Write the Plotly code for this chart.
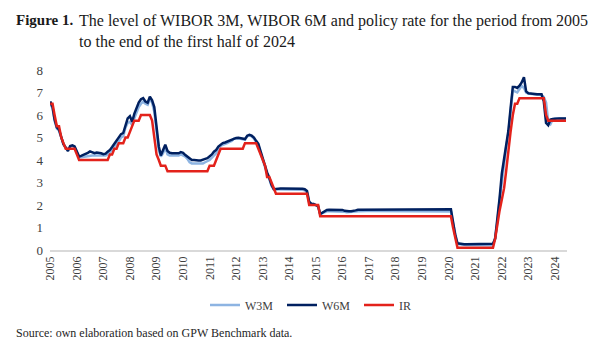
import pandas as pd
import plotly.graph_objects as go

# Monthly observations, January 2005 - June 2024 (one row per year)
w3m = [
    6.50, 6.30, 5.75, 5.40, 5.30, 5.00, 4.70, 4.55, 4.45, 4.58, 4.62, 4.58,  # 2005
    4.35, 4.12, 4.12, 4.14, 4.15, 4.17, 4.20, 4.20, 4.20, 4.21, 4.21, 4.20,  # 2006
    4.20, 4.20, 4.25, 4.35, 4.45, 4.60, 4.70, 4.82, 5.00, 5.05, 5.45, 5.65,  # 2007
    5.70, 5.55, 5.85, 6.10, 6.35, 6.50, 6.60, 6.50, 6.45, 6.70, 6.55, 6.15,  # 2008
    5.20, 4.45, 4.15, 4.30, 4.55, 4.25, 4.20, 4.20, 4.20, 4.20, 4.20, 4.25,  # 2009
    4.20, 4.15, 4.05, 3.90, 3.85, 3.85, 3.85, 3.85, 3.85, 3.85, 3.90, 3.95,  # 2010
    4.00, 4.10, 4.20, 4.30, 4.50, 4.62, 4.68, 4.70, 4.75, 4.80, 4.85, 4.95,  # 2011
    4.97, 4.96, 4.94, 4.93, 4.90, 5.05, 5.10, 5.05, 4.95, 4.80, 4.65, 4.30,  # 2012
    3.95, 3.70, 3.40, 3.15, 2.85, 2.70, 2.70, 2.71, 2.70, 2.68, 2.68, 2.69,  # 2013
    2.70, 2.71, 2.71, 2.71, 2.71, 2.70, 2.68, 2.65, 2.55, 2.10, 2.05, 2.05,  # 2014
    1.98, 1.92, 1.60, 1.65, 1.70, 1.72, 1.72, 1.72, 1.72, 1.72, 1.72, 1.72,  # 2015
    1.72, 1.70, 1.68, 1.68, 1.68, 1.70, 1.71, 1.72, 1.73, 1.73, 1.73, 1.73,  # 2016
    1.73, 1.73, 1.73, 1.73, 1.73, 1.73, 1.73, 1.73, 1.73, 1.73, 1.73, 1.73,  # 2017
    1.72, 1.72, 1.71, 1.70, 1.70, 1.70, 1.70, 1.70, 1.71, 1.72, 1.72, 1.72,  # 2018
    1.72, 1.72, 1.72, 1.72, 1.72, 1.72, 1.72, 1.72, 1.72, 1.72, 1.72, 1.72,  # 2019
    1.71, 1.71, 1.20, 0.65, 0.27, 0.25, 0.23, 0.22, 0.22, 0.22, 0.22, 0.21,  # 2020
    0.21, 0.21, 0.21, 0.21, 0.21, 0.21, 0.21, 0.21, 0.21, 0.55, 1.25, 2.20,  # 2021
    3.05, 3.70, 4.55, 5.20, 6.20, 7.10, 7.05, 7.00, 7.15, 7.30, 7.20, 7.00,  # 2022
    6.95, 6.93, 6.92, 6.91, 6.90, 6.90, 6.88, 6.80, 6.55, 5.70, 5.60, 5.80,  # 2023
    5.84, 5.84, 5.85, 5.85, 5.85, 5.85,                                      # 2024
]

w6m = [
    6.60, 6.35, 5.80, 5.45, 5.35, 5.00, 4.70, 4.55, 4.40, 4.62, 4.65, 4.60,  # 2005
    4.40, 4.15, 4.18, 4.22, 4.25, 4.32, 4.38, 4.33, 4.30, 4.33, 4.33, 4.30,  # 2006
    4.26, 4.28, 4.37, 4.45, 4.58, 4.72, 4.85, 5.00, 5.15, 5.20, 5.60, 5.85,  # 2007
    5.95, 5.70, 6.05, 6.30, 6.55, 6.70, 6.75, 6.60, 6.55, 6.82, 6.65, 6.35,  # 2008
    5.40, 4.60, 4.20, 4.45, 4.68, 4.40, 4.32, 4.30, 4.30, 4.30, 4.30, 4.35,  # 2009
    4.32, 4.22, 4.15, 4.05, 4.00, 4.00, 3.98, 3.98, 3.98, 4.00, 4.05, 4.08,  # 2010
    4.15, 4.25, 4.37, 4.45, 4.60, 4.70, 4.75, 4.78, 4.82, 4.85, 4.90, 4.95,  # 2011
    4.98, 4.99, 4.97, 4.96, 4.93, 5.08, 5.12, 5.08, 5.00, 4.85, 4.72, 4.40,  # 2012
    4.05, 3.80, 3.45, 3.20, 2.90, 2.70, 2.72, 2.73, 2.73, 2.73, 2.73, 2.74,  # 2013
    2.74, 2.74, 2.74, 2.74, 2.74, 2.73, 2.72, 2.70, 2.62, 2.15, 2.05, 2.05,  # 2014
    2.00, 1.95, 1.60, 1.65, 1.72, 1.78, 1.79, 1.79, 1.79, 1.79, 1.79, 1.79,  # 2015
    1.78, 1.74, 1.72, 1.72, 1.72, 1.73, 1.76, 1.79, 1.79, 1.80, 1.80, 1.80,  # 2016
    1.81, 1.81, 1.81, 1.81, 1.81, 1.81, 1.81, 1.81, 1.81, 1.81, 1.81, 1.81,  # 2017
    1.81, 1.81, 1.81, 1.81, 1.81, 1.81, 1.81, 1.81, 1.81, 1.81, 1.81, 1.81,  # 2018
    1.81, 1.81, 1.81, 1.81, 1.81, 1.81, 1.81, 1.81, 1.81, 1.81, 1.81, 1.81,  # 2019
    1.81, 1.81, 1.25, 0.65, 0.30, 0.28, 0.27, 0.26, 0.26, 0.26, 0.26, 0.26,  # 2020
    0.26, 0.26, 0.26, 0.25, 0.25, 0.25, 0.26, 0.26, 0.28, 0.50, 1.30, 2.30,  # 2021
    3.40, 4.00, 4.60, 5.30, 6.30, 7.25, 7.25, 7.20, 7.30, 7.45, 7.68, 7.05,  # 2022
    6.97, 6.95, 6.93, 6.92, 6.92, 6.92, 6.92, 6.60, 5.65, 5.55, 5.80, 5.82,  # 2023
    5.84, 5.84, 5.85, 5.85, 5.85, 5.84,                                      # 2024
]

ir = [
    6.50, 6.50, 6.00, 5.50, 5.50, 5.00, 4.75, 4.50, 4.50, 4.50, 4.50, 4.50,  # 2005
    4.25, 4.00, 4.00, 4.00, 4.00, 4.00, 4.00, 4.00, 4.00, 4.00, 4.00, 4.00,  # 2006
    4.00, 4.00, 4.00, 4.25, 4.25, 4.50, 4.50, 4.75, 4.75, 4.75, 5.00, 5.00,  # 2007
    5.25, 5.50, 5.75, 5.75, 5.75, 6.00, 6.00, 6.00, 6.00, 6.00, 5.75, 5.00,  # 2008
    4.25, 4.00, 3.75, 3.75, 3.75, 3.50, 3.50, 3.50, 3.50, 3.50, 3.50, 3.50,  # 2009
    3.50, 3.50, 3.50, 3.50, 3.50, 3.50, 3.50, 3.50, 3.50, 3.50, 3.50, 3.50,  # 2010
    3.75, 3.75, 3.75, 4.00, 4.25, 4.50, 4.50, 4.50, 4.50, 4.50, 4.50, 4.50,  # 2011
    4.50, 4.50, 4.50, 4.50, 4.75, 4.75, 4.75, 4.75, 4.75, 4.75, 4.50, 4.25,  # 2012
    4.00, 3.75, 3.25, 3.25, 3.00, 2.75, 2.50, 2.50, 2.50, 2.50, 2.50, 2.50,  # 2013
    2.50, 2.50, 2.50, 2.50, 2.50, 2.50, 2.50, 2.50, 2.50, 2.00, 2.00, 2.00,  # 2014
    2.00, 2.00, 1.50, 1.50, 1.50, 1.50, 1.50, 1.50, 1.50, 1.50, 1.50, 1.50,  # 2015
    1.50, 1.50, 1.50, 1.50, 1.50, 1.50, 1.50, 1.50, 1.50, 1.50, 1.50, 1.50,  # 2016
    1.50, 1.50, 1.50, 1.50, 1.50, 1.50, 1.50, 1.50, 1.50, 1.50, 1.50, 1.50,  # 2017
    1.50, 1.50, 1.50, 1.50, 1.50, 1.50, 1.50, 1.50, 1.50, 1.50, 1.50, 1.50,  # 2018
    1.50, 1.50, 1.50, 1.50, 1.50, 1.50, 1.50, 1.50, 1.50, 1.50, 1.50, 1.50,  # 2019
    1.50, 1.50, 1.00, 0.50, 0.10, 0.10, 0.10, 0.10, 0.10, 0.10, 0.10, 0.10,  # 2020
    0.10, 0.10, 0.10, 0.10, 0.10, 0.10, 0.10, 0.10, 0.10, 0.50, 1.25, 1.75,  # 2021
    2.25, 2.75, 3.50, 4.50, 5.25, 6.00, 6.50, 6.50, 6.75, 6.75, 6.75, 6.75,  # 2022
    6.75, 6.75, 6.75, 6.75, 6.75, 6.75, 6.75, 6.75, 6.00, 5.75, 5.75, 5.75,  # 2023
    5.75, 5.75, 5.75, 5.75, 5.75, 5.75,                                      # 2024
]

years = list(range(2005, 2025))
year_labels = [str(y) for y in years]

months = pd.period_range("2005-01", periods=len(ir), freq="M").to_timestamp()
year_ticks = pd.to_datetime([f"{y}-01-01" for y in years])

FONT = "Liberation Serif, DejaVu Serif, serif"
series = [
    ("W3M", w3m, "#8DB4E2"),
    ("W6M", w6m, "#002060"),
    ("IR", ir, "#E3221B"),
]

fig = go.Figure()
for name, vals, color in series:
    fig.add_trace(go.Scatter(
        x=months, y=vals, name=name, mode="lines",
        line=dict(color=color, width=2.5),
    ))

# Plot area spans x 50..567 px, y 70..250 px
L, R, T, B = 50, 35, 70, 98
W, H = 602, 348
pw, ph = W - L - R, H - T - B


def px(x):
    return (x - L) / pw


def py(y):
    return (H - B - y) / ph


fig.update_layout(
    width=W, height=H,
    margin=dict(l=L, r=R, t=T, b=B),
    paper_bgcolor="white", plot_bgcolor="white",
    font=dict(family=FONT, color="#404040"),
    showlegend=True,
    legend=dict(
        orientation="h", x=px(205), xanchor="left",
        y=py(305), yanchor="middle",
        font=dict(size=12, color="#404040", family=FONT),
        entrywidth=32, itemwidth=30, tracegroupgap=0,
        bgcolor="rgba(0,0,0,0)",
    ),
    xaxis=dict(
        type="date",
        range=[pd.Timestamp("2004-12-28"), pd.Timestamp("2024-06-15")],
        tickvals=year_ticks, ticktext=year_labels,
        tickangle=-90, showgrid=False, zeroline=False,
        showline=True, linecolor="#D9D9D9", linewidth=1.5,
        ticks="", tickfont=dict(size=12, color="#404040", family=FONT),
    ),
    yaxis=dict(
        range=[0, 8], dtick=1, showgrid=False, zeroline=False,
        showline=False, ticks="", ticklabelstandoff=6,
        tickfont=dict(size=13, color="#404040", family=FONT),
    ),
    annotations=[
        dict(
            text="<b>Figure 1.</b>", xref="paper", yref="paper",
            x=px(14), y=py(10), xanchor="left", yanchor="top",
            showarrow=False, align="left",
            font=dict(size=15, color="#1a1a1a", family=FONT),
        ),
        dict(
            text=("The level of WIBOR 3M, WIBOR 6M and policy rate for the period from 2005"
                  "<br>to the end of the first half of 2024"),
            xref="paper", yref="paper",
            x=px(77), y=py(10), xanchor="left", yanchor="top",
            showarrow=False, align="left",
            font=dict(size=16, color="#1a1a1a", family=FONT),
        ),
        dict(
            text="Source: own elaboration based on GPW Benchmark data.",
            xref="paper", yref="paper",
            x=px(14), y=py(333), xanchor="left", yanchor="middle",
            showarrow=False, align="left",
            font=dict(size=12, color="#262626", family=FONT),
        ),
    ],
)

fig.write_html("out.html")
